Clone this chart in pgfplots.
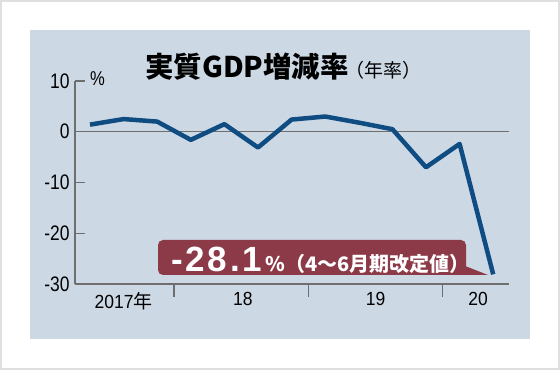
\documentclass[border=0pt]{standalone}
\usepackage{fontspec}
\usepackage{pgfplots}
\pgfplotsset{compat=1.18}
\setmainfont{Noto Sans CJK JP}
\newfontfamily\cjk{Noto Sans CJK JP}
\newfontfamily\laty{Liberation Sans}[FakeStretch=0.83]
\newfontfamily\latx{Liberation Sans}[FakeStretch=0.92]
\newfontfamily\latbold{Liberation Sans Bold}[LetterSpace=8]
\definecolor{panel}{HTML}{CDD8E5}
\definecolor{linec}{HTML}{0F4C81}
\definecolor{boxc}{HTML}{8C3A48}
\definecolor{axc}{HTML}{6E6E6E}
\begin{document}
\begin{tikzpicture}
\useasboundingbox (0,0) rectangle (560bp,370bp);
\fill[white] (0,0) rectangle (560bp,370bp);
\draw[gray!25, line width=2bp] (1bp,1bp) rectangle (559bp,369bp);
\fill[panel] (30bp,31bp) rectangle (530bp,340bp);
% title
\node[anchor=base west, inner sep=0pt] at (145bp,292bp) {\fontsize{28.5bp}{28bp}\selectfont\bfseries 実質GDP増減率\fontsize{19bp}{19bp}\selectfont\mdseries\hspace{-3bp}（年率）};
% percent
\node[anchor=west, inner sep=0pt] at (90bp,291bp) {\fontsize{20bp}{20bp}\selectfont\laty\%};
% annotation box
\fill[boxc, rounded corners=5bp] (158bp,95bp) rectangle (466bp,130bp);
\fill[boxc] (455bp,108bp) -- (488bp,95bp) -- (455bp,95bp) -- cycle;
\node[anchor=base west, inner sep=0pt, text=white] at (171bp,98bp) {\fontsize{35bp}{35bp}\selectfont\latbold -28.1\fontsize{20bp}{20bp}\selectfont\cjk\bfseries\,\%（4～6月期改定値）};
\begin{axis}[
  at={(75bp,86bp)}, anchor=south west,
  scale only axis, width=434bp, height=203bp,
  xmin=-0.446, xmax=12.47, ymin=-30, ymax=10,
  axis lines=left, axis line style={axc, line width=1.2bp, -},
  tick align=inside, major tick length=10bp,
  ytick={-30,-20,-10,10}, yticklabels={-30,-20,-10,10},
  extra y ticks={0}, extra y tick labels={0},
  extra y tick style={grid=major, major grid style={axc, line width=1.2bp}, major tick length=0pt},
  ytick style={axc, line width=1.2bp},
  yticklabel style={font=\fontsize{21bp}{21bp}\selectfont\laty, xshift=-2bp},
  xtick={1.0,4.55,8.5,11.55},
  xticklabels={2017{\cjk 年},18,19,20},
  xtick style={draw=none},
  xticklabel style={font=\fontsize{19bp}{19bp}\selectfont\latx, yshift=-5bp},
  clip=false,
]
\draw[axc, line width=1.2bp] (axis cs:2.5,-30) -- ([yshift=-13bp]axis cs:2.5,-30);
\draw[axc, line width=1.2bp] (axis cs:6.5,-30) -- ([yshift=-13bp]axis cs:6.5,-30);
\draw[axc, line width=1.2bp] (axis cs:10.5,-30) -- ([yshift=-13bp]axis cs:10.5,-30);
\addplot[linec, line width=4.5bp, line join=round, no marks] coordinates {
(0,1.4) (1,2.5) (2,2.0) (3,-1.6) (4,1.5) (5,-3.1) (6,2.4) (7,3.0) (8,1.8) (9,0.5) (10,-7.0) (11,-2.4) (12,-28.1)
};
\end{axis}
\end{tikzpicture}
\end{document}
